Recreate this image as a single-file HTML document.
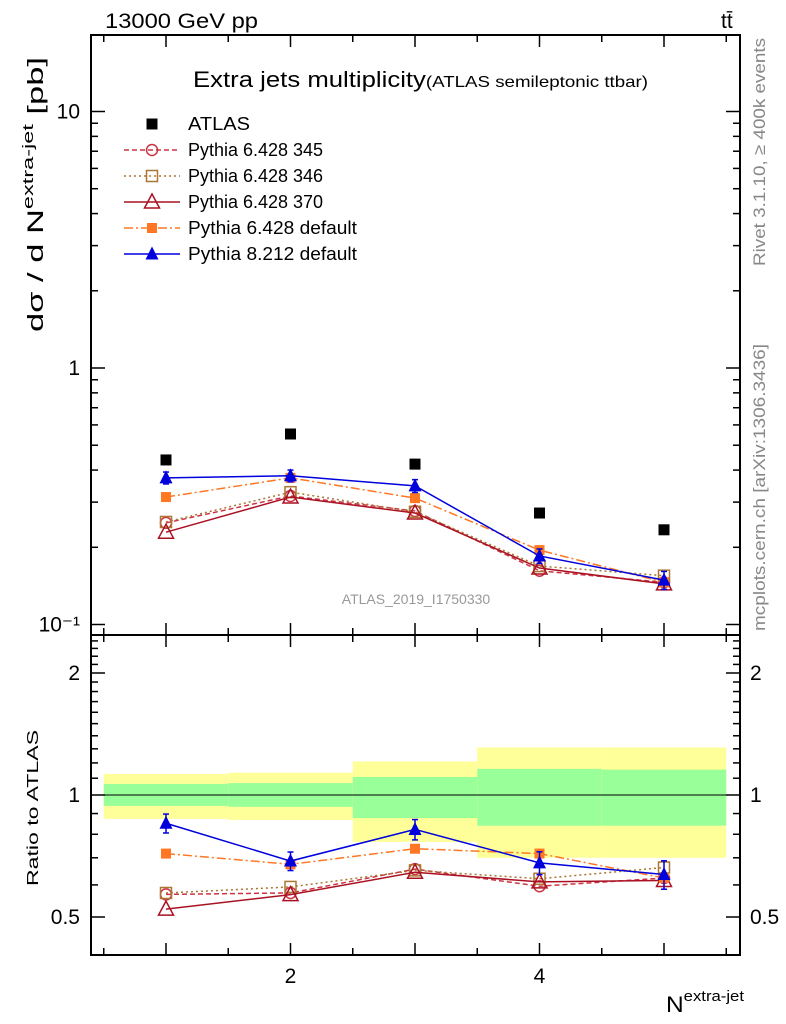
<!DOCTYPE html>
<html><head><meta charset="utf-8">
<style>
html,body{margin:0;padding:0;background:#fff;}
svg{display:block;font-family:"Liberation Sans",sans-serif;}
</style></head>
<body>
<svg id="chart" width="786" height="1024" viewBox="0 0 786 1024" xmlns="http://www.w3.org/2000/svg">
<g id="bands"></g>
<g id="grid"></g>
<g id="series"></g>
<rect x="91" y="35" width="649" height="600" fill="none" stroke="#000" stroke-width="2"/>
<rect x="91" y="635" width="649" height="320" fill="none" stroke="#000" stroke-width="2"/>
<text x="105" y="28" font-size="21" textLength="153" lengthAdjust="spacingAndGlyphs">13000 GeV pp</text>
<text x="721" y="28" font-size="21">tt̄</text>
<text x="193" y="87" font-size="22" textLength="455" lengthAdjust="spacingAndGlyphs">Extra jets multiplicity<tspan font-size="16">(ATLAS semileptonic ttbar)</tspan></text>
<text x="416" y="604" font-size="14" fill="#999" text-anchor="middle">ATLAS_2019_I1750330</text>
<text transform="translate(765,266) rotate(-90)" font-size="17" fill="#888" textLength="228" lengthAdjust="spacingAndGlyphs">Rivet 3.1.10, ≥ 400k events</text>
<text transform="translate(765,631) rotate(-90)" font-size="17" fill="#888" textLength="287" lengthAdjust="spacingAndGlyphs">mcplots.cern.ch [arXiv:1306.3436]</text>
<text transform="translate(43,332) rotate(-90)" font-size="22" textLength="275" lengthAdjust="spacingAndGlyphs">dσ / d N<tspan font-size="15" dy="-10">extra-jet</tspan><tspan dy="10"> [pb]</tspan></text>
<text transform="translate(38,886) rotate(-90)" font-size="16" textLength="156" lengthAdjust="spacingAndGlyphs">Ratio to ATLAS</text>
<text x="666" y="1012" font-size="22" textLength="78" lengthAdjust="spacingAndGlyphs">N<tspan font-size="15" dy="-11">extra-jet</tspan></text>
<g id="legend"></g>
</svg>
<script>
const categories=[1,2,3,4,5];
const binEdges=[0.5,1.5,2.5,3.5,4.5,5.5];
const atlas=[0.438,0.553,0.422,0.272,0.234];
const py6_345=[0.249,0.317,0.277,0.162,0.146];
const py6_346=[0.251,0.328,0.275,0.169,0.155];
const py6_370=[0.229,0.314,0.272,0.166,0.144];
const py6_def=[0.314,0.373,0.311,0.195,0.146];
const py8_def=[0.373,0.380,0.347,0.185,0.149];
const py8_err=[0.02,0.02,0.02,0.012,0.012];
const bandYellowHi=[1.127,1.135,1.21,1.31,1.31];
const bandYellowLo=[0.873,0.868,0.766,0.70,0.70];
const bandGreenHi=[1.065,1.07,1.108,1.16,1.155];
const bandGreenLo=[0.94,0.935,0.877,0.84,0.84];
const yTickLabels=["10⁻¹","1","10"];
const ratioTickLabels=["0.5","1","2"];
const xTickLabels=["2","4"];

const NS="http://www.w3.org/2000/svg";
const X=v=>166+(v-1)*124.5;
const Y=v=>368-Math.log10(v)*256.5;
const R=v=>795-Math.log2(v)*122;
function mk(parent,tag,attrs){const e=document.createElementNS(NS,tag);for(const k in attrs)e.setAttribute(k,attrs[k]);document.getElementById(parent)?document.getElementById(parent).appendChild(e):parent.appendChild(e);return e;}

binEdges.slice(0,-1).forEach((lo,i)=>{
 const hi=binEdges[i+1];
 let r=mk('bands','rect',{x:X(lo),y:R(bandYellowHi[i]),width:X(hi)-X(lo),height:R(bandYellowLo[i])-R(bandYellowHi[i]),fill:'#ffff99'});
 
 
 let g=mk('bands','rect',{x:X(lo),y:R(bandGreenHi[i]),width:X(hi)-X(lo),height:R(bandGreenLo[i])-R(bandGreenHi[i]),fill:'#99ff99'});
 
 
});
let one=mk('grid','line',{x1:91,x2:740,y1:R(1),y2:R(1),stroke:'#000','stroke-width':1});



for(let v=0.5;v<=5.51;v+=0.5){
 const major=Math.abs(v-Math.round(v))<1e-6;
 const L=major?12:7;
 [[635,-1],[35,1],[955,-1],[635,1]].forEach(([y0,d])=>{mk('grid','line',{x1:X(v),x2:X(v),y1:y0,y2:y0+d*L,stroke:'#000','stroke-width':1.5});});
}
[2,4].forEach((v,i)=>{const t=mk('grid','text',{x:X(v),y:983,'font-size':21,'text-anchor':'middle'});t.textContent=xTickLabels[i];
 
 });

for(let d=-1;d<=1;d++){for(let m=1;m<=9;m++){const v=m*Math.pow(10,d);const y=Y(v);if(y<35||y>635)continue;const L=m==1?14:7;
 mk('grid','line',{x1:91,x2:91+L,y1:y,y2:y,stroke:'#000','stroke-width':1.5});
 mk('grid','line',{x1:740,x2:740-L,y1:y,y2:y,stroke:'#000','stroke-width':1.5});}}
[0.1,1,10].forEach((v,i)=>{const t=mk('grid','text',{x:80,y:Y(v)+7,'font-size':21,'text-anchor':'end'});t.textContent=yTickLabels[i];
 
 });
for(let v=0.4;v<=2.5;v+=0.1){const y=R(v);if(y<636||y>954)continue;const maj=[0.5,1,2].some(a=>Math.abs(a-v)<1e-6);const L=maj?14:7;
 mk('grid','line',{x1:91,x2:91+L,y1:y,y2:y,stroke:'#000','stroke-width':1.5});
 mk('grid','line',{x1:740,x2:740-L,y1:y,y2:y,stroke:'#000','stroke-width':1.5});}
[0.5,1,2].forEach((v,i)=>{[[80,'end'],[750,'start']].forEach(([x,a])=>{const t=mk('grid','text',{x:x,y:R(v)+7,'font-size':21,'text-anchor':a});t.textContent=ratioTickLabels[i];
 
 });});

function marker(g,type,x,y,color){
 if(type=='fsq')mk(g,'rect',{x:x-5,y:y-5,width:10,height:10,fill:color});
 else if(type=='osq')mk(g,'rect',{x:x-5.5,y:y-5.5,width:11,height:11,fill:'none',stroke:color,'stroke-width':1.5});
 else if(type=='oc')mk(g,'circle',{cx:x,cy:y,r:5.5,fill:'none',stroke:color,'stroke-width':1.5});
 else if(type=='ot')mk(g,'path',{d:`M${x-7.5},${y+6}L${x+7.5},${y+6}L${x},${y-8}Z`,fill:'none',stroke:color,'stroke-width':1.5});
 else if(type=='ft')mk(g,'path',{d:`M${x-6.5},${y+5.5}L${x+6.5},${y+5.5}L${x},${y-7.5}Z`,fill:color});
 else if(type=='bsq')mk(g,'rect',{x:x-5.5,y:y-5.5,width:11,height:11,fill:color});
}
const seriesDefs=[
 {name:'Pythia 6.428 345',vals:py6_345,color:'#cc3344',dash:'5,3',m:'oc',id:'py6-345'},
 {name:'Pythia 6.428 346',vals:py6_346,color:'#aa7733',dash:'2,3',m:'osq',id:'py6-346'},
 {name:'Pythia 6.428 370',vals:py6_370,color:'#aa1122',dash:'',m:'ot',id:'py6-370'},
 {name:'Pythia 6.428 default',vals:py6_def,color:'#ff7722',dash:'9,3,2,3',m:'fsq',id:'py6-default'},
 {name:'Pythia 8.212 default',vals:py8_def,color:'#0000dd',dash:'',m:'ft',id:'py8-default',err:py8_err},
];
seriesDefs.forEach(s=>{
 [['main',Y,s.vals],['ratio',R,s.vals.map((v,i)=>v/atlas[i])]].forEach(([pn,F,vals])=>{
  const g=mk('series','g',{});
  
  
  mk(g,'polyline',{points:categories.map((c,i)=>X(c)+','+F(vals[i])).join(' '),fill:'none',stroke:s.color,'stroke-width':1.5,'stroke-dasharray':s.dash});
  categories.forEach((c,i)=>{
   if(s.err){const e=pn=='main'?s.err[i]:s.err[i]/atlas[i];const y1=F(vals[i]+e),y2=F(vals[i]-e);
    mk(g,'line',{x1:X(c),x2:X(c),y1:y1,y2:y2,stroke:s.color,'stroke-width':1.5});
    mk(g,'line',{x1:X(c)-3,x2:X(c)+3,y1:y1,y2:y1,stroke:s.color,'stroke-width':1.5});
    mk(g,'line',{x1:X(c)-3,x2:X(c)+3,y1:y2,y2:y2,stroke:s.color,'stroke-width':1.5});}
   marker(g,s.m,X(c),F(vals[i]),s.color);});
 });
});
const ag=mk('series','g',{});


categories.forEach((c,i)=>marker(ag,'bsq',X(c),Y(atlas[i]),'#000'));

const leg=[{name:'ATLAS',m:'bsq',color:'#000',dash:null}].concat(seriesDefs);
const legW=[62,135,135,135,169,169];
leg.forEach((s,i)=>{const y=124+i*26;const g=mk('legend','g',{});
 
 
 if(s.dash!==null)mk(g,'line',{x1:124,x2:180,y1:y,y2:y,stroke:s.color,'stroke-width':1.5,'stroke-dasharray':s.dash});
 marker(g,s.m,152,y,s.color);
 const t=mk(g,'text',{x:188,y:y+6,'font-size':18,textLength:legW[i],lengthAdjust:'spacingAndGlyphs'});t.textContent=s.name;});
</script>
</body></html>
